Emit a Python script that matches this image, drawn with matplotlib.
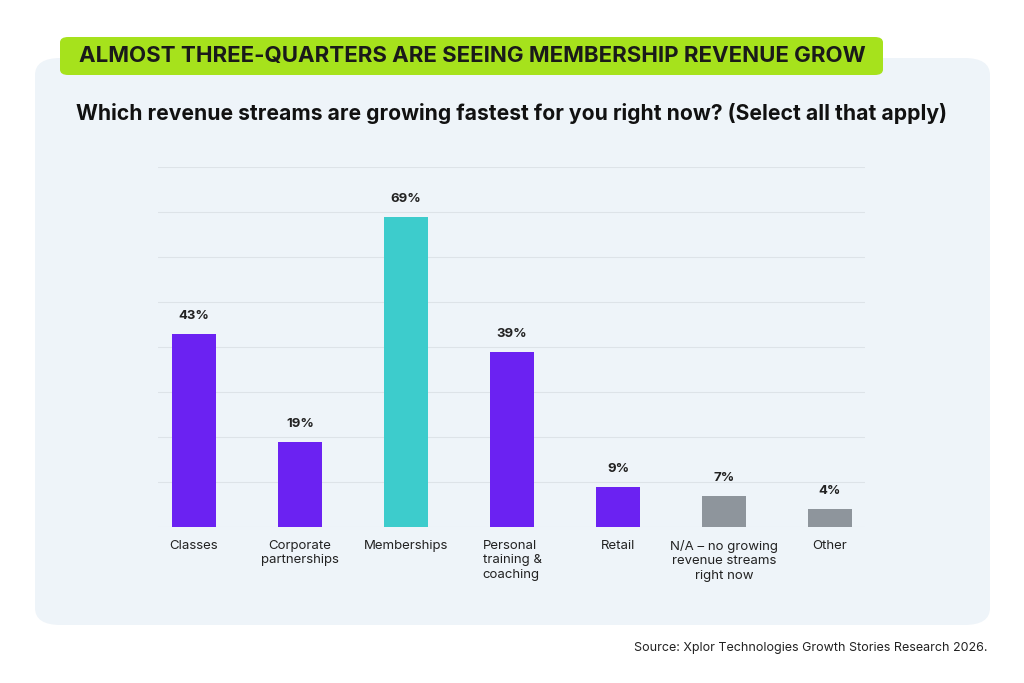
import matplotlib.pyplot as plt
from matplotlib.patches import FancyBboxPatch

plt.rcParams["font.family"] = ["Inter", "DejaVu Sans"]

categories = ["Classes", "Corporate\npartnerships", "Memberships",
              "Personal\ntraining &\ncoaching", "Retail",
              "N/A – no growing\nrevenue streams\nright now", "Other"]
values = [43, 19, 69, 39, 9, 7, 4]
colors = ["#6b22f2", "#6b22f2", "#3dcccc", "#6b22f2", "#6b22f2", "#8e959c", "#8e959c"]

W, H = 1024, 683
fig = plt.figure(figsize=(W / 100, H / 100), dpi=100)
fig.patch.set_facecolor("white")

# background panel
panel = FancyBboxPatch((35 / W, 1 - 625 / H), 955 / W, 567 / H,
                       boxstyle="round,pad=0,rounding_size=0.025",
                       transform=fig.transFigure, facecolor="#eef4f9",
                       edgecolor="none", zorder=0)
fig.patches.append(panel)

# green header
hdr = FancyBboxPatch((60 / W, 1 - 75 / H), 823 / W, 38 / H,
                     boxstyle="round,pad=0,rounding_size=0.008",
                     transform=fig.transFigure, facecolor="#a6e21c",
                     edgecolor="none", zorder=1)
fig.patches.append(hdr)
fig.text(472 / W, 1 - 56 / H, "ALMOST THREE-QUARTERS ARE SEEING MEMBERSHIP REVENUE GROW",
         ha="center", va="center", fontsize=16, fontweight="bold",
         color="#1a1a1a", zorder=2)

fig.text(512 / W, 1 - 113 / H,
         "Which revenue streams are growing fastest for you right now? (Select all that apply)",
         ha="center", va="center", fontsize=15.2, fontweight="bold", color="#111111",
         zorder=2)

fig.text(988 / W, 1 - 648 / H, "Source: Xplor Technologies Growth Stories Research 2026.",
         ha="right", va="center", fontsize=9, color="#222222")

ax = fig.add_axes([158 / W, 1 - 527 / H, 707 / W, 360 / H], zorder=3)
ax.set_facecolor("none")
x = range(len(values))
ax.bar(x, values, width=0.415, color=colors, zorder=2)
for xi, v in zip(x, values):
    ax.text(xi, v + 2.6, f"{v}%", ha="center", va="bottom", fontsize=9.5,
            fontweight="bold", color="#222222")

ax.set_ylim(0, 80)
ax.set_xlim(-0.34, 6.33)
ax.set_yticks(range(0, 81, 10))
ax.yaxis.grid(True, color="#dde3e8", linewidth=0.8, zorder=0)
ax.tick_params(left=False, labelleft=False, bottom=False)
ax.set_xticks(list(x))
ax.set_xticklabels(categories, fontsize=9.5, color="#222222", va="top",
                   linespacing=1.25)
for lbl in ax.get_xticklabels():
    lbl.set_multialignment("left" if lbl.get_text().startswith("Personal") else "center")
ax.tick_params(axis="x", pad=6)
for s in ax.spines.values():
    s.set_visible(False)

fig.savefig("out.png", dpi=100)
